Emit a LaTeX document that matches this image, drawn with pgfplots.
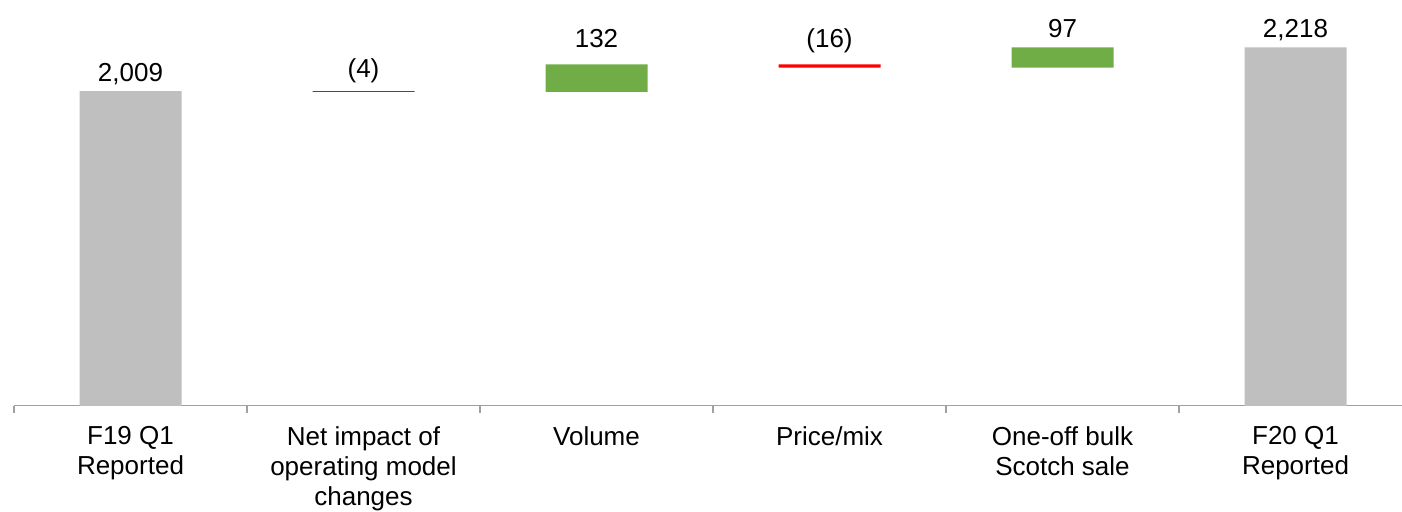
\documentclass[border=0pt]{standalone}
\usepackage{pgfplots}
\pgfplotsset{compat=1.18}
\usepackage{fontspec}
\setmainfont{Liberation Sans}
\definecolor{barGray}{HTML}{BFBFBF}
\definecolor{barGreen}{HTML}{70AD47}
\definecolor{barRed}{HTML}{FF0000}
\definecolor{axGray}{HTML}{A0A0A0}
\begin{document}
\begin{tikzpicture}
\useasboundingbox (0,0) rectangle (701pt,256pt);
\begin{axis}[
 at={(7pt,53.15pt)}, anchor=south west,
 scale only axis, width=699pt, height=202.85pt,
 xmin=-0.5, xmax=5.5, ymin=500, ymax=2445.7,
 ybar stacked, bar width=51pt,
 axis x line=bottom, axis y line=none,
 axis line style={draw=axGray, line width=0.75pt, -},
 xtick={0,...,5},
 xticklabels={{F19 Q1\\Reported},{Net impact of\\operating model\\changes},Volume,Price/mix,{One-off bulk\\Scotch sale},{F20 Q1\\Reported}},
 major tick length=0pt,
 minor xtick={-0.5,0.5,...,5.5},
 minor tick length=3.5pt,
 xtick align=outside,
 minor tick style={draw=axGray, line width=0.75pt},
 xticklabel style={align=center, font=\fontsize{13}{15}\selectfont, yshift=-6.8pt},
 ytick=\empty,
]
\addplot[draw=none, fill=none] coordinates {(0,0) (1,2005) (2,2005) (3,2121) (4,2121) (5,0)};
\addplot[draw=none, fill=barGray] coordinates {(0,2009) (1,0) (2,0) (3,0) (4,0) (5,2218)};
\addplot[draw=none, fill=barGreen] coordinates {(0,0) (1,0) (2,132) (3,0) (4,97) (5,0)};
\addplot[draw=none, fill=barRed] coordinates {(0,0) (1,4) (2,0) (3,16) (4,0) (5,0)};
\end{axis}
\begin{axis}[
 at={(7pt,53.15pt)}, anchor=south west,
 scale only axis, width=699pt, height=202.85pt,
 xmin=-0.5, xmax=5.5, ymin=500, ymax=2445.7,
 hide axis, clip=false,
]
\addplot[only marks, mark=none, nodes near coords, point meta=explicit symbolic,
 every node near coord/.append style={anchor=base, font=\fontsize{13}{15}\selectfont, inner sep=0pt, text=black}]
 coordinates {(0,2057) [2{,}009] (1,2075) [(4)] (2,2217) [132] (3,2219) [(16)] (4,2267) [97] (5,2267) [2{,}218]};
\end{axis}
\end{tikzpicture}
\end{document}
